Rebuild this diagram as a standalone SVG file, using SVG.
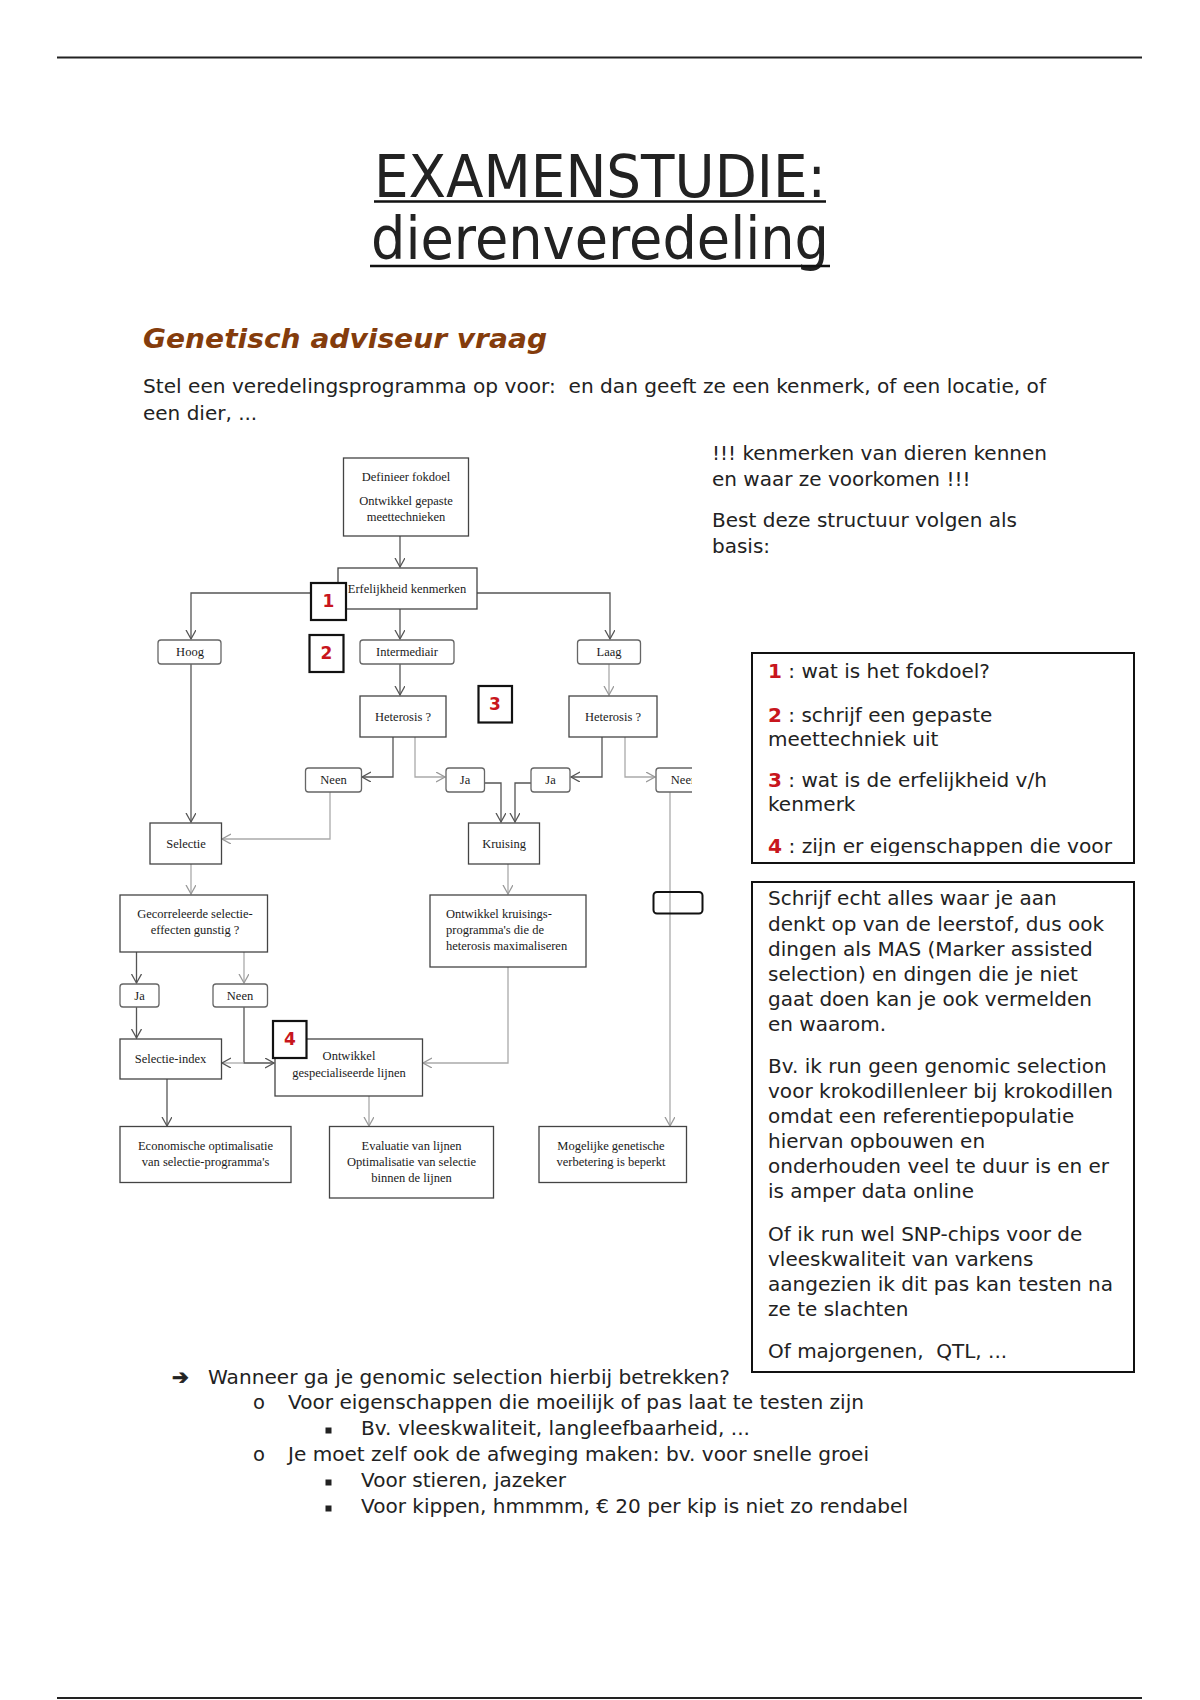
<svg xmlns="http://www.w3.org/2000/svg" width="1200" height="1700" viewBox="0 0 1200 1700">
<style>
.sans{font-family:"DejaVu Sans","Liberation Sans",sans-serif;fill:#222}
.body{font-size:20px}
.box{font-size:20px}
.list{font-size:19.5px}
.fc{font-family:"Liberation Serif","DejaVu Serif",serif;font-size:12.5px;fill:#1a1a1a;text-anchor:middle}
.n{fill:#fff;stroke:#444;stroke-width:1.3}
.r{fill:#fff;stroke:#666;stroke-width:1.3}
.num{fill:#fff;stroke:#111;stroke-width:2.2}
.red{font-family:"DejaVu Sans","Liberation Sans",sans-serif;font-weight:bold;fill:#c8161d}
.rn{font-size:17px;text-anchor:middle}
.d{fill:none;stroke:#555;stroke-width:1.3}
.l{fill:none;stroke:#aaa;stroke-width:1.3}
</style>
<defs>
<marker id="ad" markerWidth="12" markerHeight="12" refX="9" refY="5" orient="auto" markerUnits="userSpaceOnUse"><path d="M0,0 L9,5 L0,10" fill="none" stroke="#555" stroke-width="1.3"/></marker>
<marker id="al" markerWidth="12" markerHeight="12" refX="9" refY="5" orient="auto" markerUnits="userSpaceOnUse"><path d="M0,0 L9,5 L0,10" fill="none" stroke="#999" stroke-width="1.3"/></marker>
<clipPath id="cut"><rect x="0" y="0" width="692" height="1700"/></clipPath>
<clipPath id="cut2"><rect x="740" y="640" width="420" height="216"/></clipPath>
</defs>
<rect width="1200" height="1700" fill="#fff"/>
<line x1="57" y1="57.5" x2="1142" y2="57.5" stroke="#222" stroke-width="2"/>
<line x1="57" y1="1698" x2="1142" y2="1698" stroke="#222" stroke-width="2"/>

<g id="title">
<text class="sans" x="374" y="197" font-size="58" textLength="452" lengthAdjust="spacingAndGlyphs" fill="#111">EXAMENSTUDIE:</text>
<line x1="374" y1="201.5" x2="826" y2="201.5" stroke="#111" stroke-width="2.5"/>
<text class="sans" x="371" y="259" font-size="58" textLength="458" lengthAdjust="spacingAndGlyphs" fill="#111">dierenveredeling</text>
<line x1="370" y1="266" x2="830" y2="266" stroke="#111" stroke-width="2.5"/>
</g>

<g id="heading">
<text x="143" y="348" font-family="DejaVu Sans, Liberation Sans, sans-serif" font-size="26" font-weight="bold" font-style="italic" fill="#843c0c" textLength="404" lengthAdjust="spacingAndGlyphs">Genetisch adviseur vraag</text>
</g>

<g id="intro" class="sans body">
<text x="143" y="393" textLength="903" lengthAdjust="spacingAndGlyphs">Stel een veredelingsprogramma op voor:&#160; en dan geeft ze een kenmerk, of een locatie, of</text>
<text x="143" y="420">een dier, ...</text>
</g>

<g id="note" class="sans body">
<text x="712" y="460" textLength="335" lengthAdjust="spacingAndGlyphs">!!! kenmerken van dieren kennen</text>
<text x="712" y="486">en waar ze voorkomen !!!</text>
<text x="712" y="527" textLength="305" lengthAdjust="spacingAndGlyphs">Best deze structuur volgen als</text>
<text x="712" y="553">basis:</text>
</g>

<g id="legend">
<rect x="752" y="653" width="382" height="210" fill="#fff" stroke="#111" stroke-width="2"/>
<g clip-path="url(#cut2)" class="sans box">
<text x="768" y="678"><tspan class="red">1</tspan> : wat is het fokdoel?</text>
<text x="768" y="722"><tspan class="red">2</tspan> : schrijf een gepaste</text>
<text x="768" y="746">meettechniek uit</text>
<text x="768" y="787"><tspan class="red">3</tspan> : wat is de erfelijkheid v/h</text>
<text x="768" y="811">kenmerk</text>
<text x="768" y="853" textLength="344" lengthAdjust="spacingAndGlyphs"><tspan class="red">4</tspan> : zijn er eigenschappen die voor</text>
</g>
</g>

<g id="advice" class="sans box">
<rect x="752" y="882" width="382" height="490" fill="#fff" stroke="#111" stroke-width="2"/>
<text x="768" y="905">Schrijf echt alles waar je aan</text>
<text x="768" y="931">denkt op van de leerstof, dus ook</text>
<text x="768" y="956">dingen als MAS (Marker assisted</text>
<text x="768" y="981">selection) en dingen die je niet</text>
<text x="768" y="1006">gaat doen kan je ook vermelden</text>
<text x="768" y="1031">en waarom.</text>
<text x="768" y="1073">Bv. ik run geen genomic selection</text>
<text x="768" y="1098" textLength="345" lengthAdjust="spacingAndGlyphs">voor krokodillenleer bij krokodillen</text>
<text x="768" y="1123">omdat een referentiepopulatie</text>
<text x="768" y="1148">hiervan opbouwen en</text>
<text x="768" y="1173">onderhouden veel te duur is en er</text>
<text x="768" y="1198">is amper data online</text>
<text x="768" y="1241">Of ik run wel SNP-chips voor de</text>
<text x="768" y="1266">vleeskwaliteit van varkens</text>
<text x="768" y="1291" textLength="345" lengthAdjust="spacingAndGlyphs">aangezien ik dit pas kan testen na</text>
<text x="768" y="1316">ze te slachten</text>
<text x="768" y="1358">Of majorgenen,&#160; QTL, ...</text>
</g>

<g id="connectors">
<path class="d" d="M400,536 V567" marker-end="url(#ad)"/>
<path class="d" d="M338,593 H191 V639" marker-end="url(#ad)"/>
<path class="d" d="M477,593 H610 V639" marker-end="url(#ad)"/>
<path class="d" d="M400,609 V639" marker-end="url(#ad)"/>
<path class="d" d="M400,664 V695" marker-end="url(#ad)"/>
<path class="l" d="M609,664 V695" marker-end="url(#al)"/>
<path class="d" d="M393,737 V777 H362" marker-end="url(#ad)"/>
<path class="l" d="M415,737 V777 H445" marker-end="url(#al)"/>
<path class="d" d="M602,737 V777 H571" marker-end="url(#ad)"/>
<path class="l" d="M625,737 V777 H655" marker-end="url(#al)"/>
<path class="d" d="M485,783 H501 V822" marker-end="url(#ad)"/>
<path class="d" d="M531,783 H515 V822" marker-end="url(#ad)"/>
<path class="d" d="M191,664 V822" marker-end="url(#ad)"/>
<path class="l" d="M330,792 V839 H222" marker-end="url(#al)"/>
<path class="l" d="M670,792 V1126" marker-end="url(#al)"/>
<path class="l" d="M191,864 V894" marker-end="url(#al)"/>
<path class="l" d="M508,864 V894" marker-end="url(#al)"/>
<path class="d" d="M136.5,952 V983" marker-end="url(#ad)"/>
<path class="l" d="M244,952 V983" marker-end="url(#al)"/>
<path class="d" d="M136.5,1007 V1038" marker-end="url(#ad)"/>
<path class="d" d="M244,1007 V1063 H274" marker-end="url(#ad)"/>
<path class="l" d="M244,1063 H222" marker-end="url(#ad)"/>
<path class="l" d="M508,967 V1063 H423" marker-end="url(#al)"/>
<path class="d" d="M167,1079 V1126" marker-end="url(#ad)"/>
<path class="l" d="M369,1096 V1126" marker-end="url(#al)"/>
</g>

<g id="n-define"><rect class="n" x="343.5" y="458" width="125" height="78"/>
<text class="fc" x="406" y="481">Definieer fokdoel</text>
<text class="fc" x="406" y="505">Ontwikkel gepaste</text>
<text class="fc" x="406" y="521">meettechnieken</text></g>
<g id="n-erf"><rect class="n" x="338" y="568" width="139" height="41"/>
<text class="fc" x="407" y="593">Erfelijkheid kenmerken</text></g>
<g id="n-hoog"><rect class="r" x="158" y="640" width="63" height="24" rx="3"/><text class="fc" x="190" y="656">Hoog</text></g>
<g id="n-inter"><rect class="r" x="360" y="640" width="94" height="24" rx="3"/><text class="fc" x="407" y="656">Intermediair</text></g>
<g id="n-laag"><rect class="r" x="577.5" y="640" width="63" height="24" rx="3"/><text class="fc" x="609" y="656">Laag</text></g>
<g id="n-het1"><rect class="n" x="360" y="696" width="86" height="41"/><text class="fc" x="403" y="721">Heterosis ?</text></g>
<g id="n-het2"><rect class="n" x="569" y="696" width="88" height="41"/><text class="fc" x="613" y="721">Heterosis ?</text></g>
<g id="n-neen1"><rect class="r" x="305.5" y="768" width="56" height="24" rx="3"/><text class="fc" x="333.5" y="784">Neen</text></g>
<g id="n-ja1"><rect class="r" x="446" y="768" width="38.5" height="24" rx="3"/><text class="fc" x="465" y="784">Ja</text></g>
<g id="n-ja2"><rect class="r" x="531" y="768" width="39" height="24" rx="3"/><text class="fc" x="550.5" y="784">Ja</text></g>
<g id="n-nee2" clip-path="url(#cut)"><rect class="r" x="656" y="768" width="56" height="24" rx="3"/><text class="fc" x="684" y="784">Neen</text></g>
<g id="n-sel"><rect class="n" x="150" y="823" width="71.5" height="41"/><text class="fc" x="186" y="848">Selectie</text></g>
<g id="n-kruis"><rect class="n" x="468.5" y="823" width="71" height="41"/><text class="fc" x="504" y="848">Kruising</text></g>
<g id="n-marker"><rect x="653.5" y="892" width="49" height="21.5" rx="3.5" fill="none" stroke="#111" stroke-width="2"/></g>
<g id="n-gecor"><rect class="n" x="120" y="895" width="147.5" height="57"/>
<text class="fc" x="195" y="918">Gecorreleerde selectie-</text>
<text class="fc" x="195" y="934">effecten gunstig ?</text></g>
<g id="n-okruis"><rect class="n" x="430" y="895" width="156" height="72"/>
<text class="fc" x="446" y="918" style="text-anchor:start">Ontwikkel kruisings-</text>
<text class="fc" x="446" y="934" style="text-anchor:start">programma's die de</text>
<text class="fc" x="446" y="950" style="text-anchor:start">heterosis maximaliseren</text></g>
<g id="n-ja3"><rect class="r" x="120" y="984" width="39" height="23" rx="3"/><text class="fc" x="139.5" y="999.5">Ja</text></g>
<g id="n-neen3"><rect class="r" x="213" y="984" width="54.5" height="23" rx="3"/><text class="fc" x="240" y="999.5">Neen</text></g>
<g id="n-selidx"><rect class="n" x="120" y="1039" width="101.5" height="40"/><text class="fc" x="170.5" y="1063">Selectie-index</text></g>
<g id="n-ogesp"><rect class="n" x="275" y="1039" width="147.5" height="57"/>
<text class="fc" x="349" y="1060">Ontwikkel</text>
<text class="fc" x="349" y="1077">gespecialiseerde lijnen</text></g>
<g id="n-econ"><rect class="n" x="120" y="1126.5" width="171" height="56"/>
<text class="fc" x="205.5" y="1150">Economische optimalisatie</text>
<text class="fc" x="205.5" y="1166">van selectie-programma's</text></g>
<g id="n-eval"><rect class="n" x="329.5" y="1126.5" width="164" height="71.5"/>
<text class="fc" x="411.5" y="1150">Evaluatie van lijnen</text>
<text class="fc" x="411.5" y="1166">Optimalisatie van selectie</text>
<text class="fc" x="411.5" y="1182">binnen de lijnen</text></g>
<g id="n-mogel"><rect class="n" x="539" y="1126.5" width="147.5" height="56"/>
<text class="fc" x="611" y="1150">Mogelijke genetische</text>
<text class="fc" x="611" y="1166">verbetering is beperkt</text></g>

<g id="markers">
<rect class="num" x="311" y="583" width="35" height="37"/><text class="red rn" x="328.5" y="607">1</text>
<rect class="num" x="309.5" y="635" width="34" height="37"/><text class="red rn" x="326.5" y="659">2</text>
<rect class="num" x="478.5" y="686" width="33.5" height="36.5"/><text class="red rn" x="495" y="710">3</text>
<rect class="num" x="273" y="1021" width="33.5" height="37"/><text class="red rn" x="290" y="1045">4</text>
</g>

<g id="list" class="sans list">
<text x="172" y="1384" font-size="20" font-weight="bold" stroke="#222" stroke-width="0.8">➔</text>
<text x="208" y="1384" textLength="522" lengthAdjust="spacingAndGlyphs">Wanneer ga je genomic selection hierbij betrekken?</text>
<text x="253" y="1409">o</text>
<text x="288" y="1409" textLength="576" lengthAdjust="spacingAndGlyphs">Voor eigenschappen die moeilijk of pas laat te testen zijn</text>
<rect x="325.5" y="1427.5" width="6" height="6" fill="#222"/>
<text x="361" y="1435" textLength="389" lengthAdjust="spacingAndGlyphs">Bv. vleeskwaliteit, langleefbaarheid, ...</text>
<text x="253" y="1461">o</text>
<text x="288" y="1461" textLength="581" lengthAdjust="spacingAndGlyphs">Je moet zelf ook de afweging maken: bv. voor snelle groei</text>
<rect x="325.5" y="1479.5" width="6" height="6" fill="#222"/>
<text x="361" y="1487" textLength="205" lengthAdjust="spacingAndGlyphs">Voor stieren, jazeker</text>
<rect x="325.5" y="1505.5" width="6" height="6" fill="#222"/>
<text x="361" y="1513" textLength="547" lengthAdjust="spacingAndGlyphs">Voor kippen, hmmmm, € 20 per kip is niet zo rendabel</text>
</g>
</svg>
